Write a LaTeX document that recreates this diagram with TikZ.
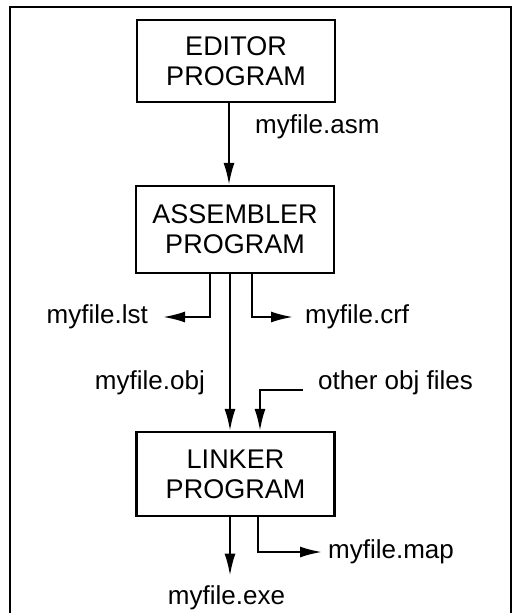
\documentclass[tikz,border=0pt]{standalone}
\usepackage{fontspec}
\setmainfont{Liberation Sans}
\usetikzlibrary{arrows.meta}

\begin{document}
\begin{tikzpicture}[x=1pt,y=-1pt]
\tikzstyle{prog}=[rectangle, draw=black, line width=2.2pt, minimum width=198pt, align=center, font=\fontsize{27}{30}\selectfont]
\tikzstyle{lbl}=[inner sep=0pt, font=\fontsize{26}{30}\selectfont]
\tikzstyle{connect}=[-{Latex[length=22pt,width=11pt]}, line width=2.2pt]

\useasboundingbox (0,0) rectangle (514,613);
\draw[line width=2.2pt] (10,613) -- (10,7) -- (511,7) -- (511,613);

\node[prog, minimum height=82pt] at (236,61) (editor) {EDITOR\\PROGRAM};
\node[prog, minimum height=87pt] at (235,229.5) (assembler) {ASSEMBLER\\PROGRAM};
\node[prog, minimum height=84pt] at (235.5,474) (linker) {LINKER\\PROGRAM};

\node[lbl, anchor=west] at (255,127) (asmfile) {myfile.asm};
\node[lbl, anchor=east] at (148,317) (lstfile) {myfile.lst};
\node[lbl, anchor=west] at (305,317) (crffile) {myfile.crf};
\node[lbl, anchor=east] at (205,383) (objfile) {myfile.obj};
\node[lbl, anchor=west] at (318,383) (otherfiles) {other obj files};
\node[lbl, anchor=west] at (328,552) (mapfile) {myfile.map};
\node[lbl] at (226.5,598) (exefile) {myfile.exe};

\draw[connect] ([xshift=-7pt]editor.south) -- ([xshift=-7pt]editor.south |- assembler.north);
\draw[connect] ([xshift=-25pt]assembler.south) |- ([xshift=15pt]lstfile.east);
\draw[connect] ([xshift=17pt]assembler.south) |- ([xshift=-12pt]crffile.west);
\draw[connect] ([xshift=-5pt]assembler.south) -- ([xshift=-5pt]assembler.south |- linker.north);
\draw[connect] ([xshift=-15pt,yshift=-7pt]otherfiles.west) -| ([xshift=24.5pt]linker.north);
\draw[connect] ([xshift=22.5pt]linker.south) |- ([xshift=-6pt]mapfile.west);
\draw[connect] ([xshift=-5.5pt]linker.south) -- ([xshift=-5.5pt,yshift=10pt]linker.south |- exefile.north);
\end{tikzpicture}
\end{document}
